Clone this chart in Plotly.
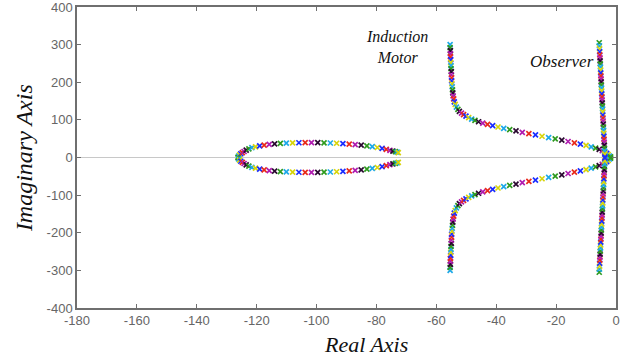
import plotly.graph_objects as go

# Observer branch (upper half; lower half is the complex conjugate)
obs_re = [-5.6, -5.55, -5.5, -5.45, -5.4, -5.35, -5.3, -5.25, -5.2, -5.15, -5.1, -5.05, -5.0, -4.95, -4.9,
          -4.85, -4.8, -4.75, -4.7, -4.65, -4.6, -4.55, -4.5, -4.45, -4.4, -4.35, -4.3, -4.25, -4.2, -4.15,
          -4.1, -4.05, -4.0, -3.95, -3.9, -3.85, -3.8, -3.75, -3.7]
obs_im = [305, 297, 289, 281, 273, 265, 257, 249, 241, 233, 225, 217, 209, 201, 193,
          185, 177, 169, 161, 153, 145, 137, 129, 121, 113, 105, 97, 89, 81, 73,
          65, 57, 49, 41, 33, 25, 17, 9, 1]

# Induction motor branch (upper half)
im_re = [-55.4, -55.4, -55.3, -55.3, -55.3, -55.2, -55.2, -55.1, -55.1, -55.0, -55.0, -54.9, -54.9, -54.8,
         -54.7, -54.6, -54.5, -54.4, -54.2, -54.0, -53.7, -53.3, -52.8, -52.3, -51.6, -50.9, -50.1, -49.2,
         -48.2, -47.1, -45.9, -44.5, -42.9, -41.2, -39.4, -37.5, -35.5, -33.4, -31.3, -29.1, -26.9, -24.7,
         -22.5, -20.3, -18.1, -16.0, -13.9, -11.9, -10.0, -8.3, -6.8, -5.6, -4.6, -3.8, -3.1, -2.6, -2.2, -1.8]
im_im = [300, 292, 284, 276, 268, 260, 252, 244, 236, 228, 220, 212, 204, 196,
         188, 180, 172, 164, 156, 148, 141, 134, 128, 122.5, 118, 114, 110, 106,
         102, 98.5, 95, 91.5, 88, 84.5, 81, 77.5, 74, 70.5, 67, 63.5, 60, 56.5,
         53, 49.5, 46, 42.5, 39, 35.5, 32, 28.5, 25, 21.5, 18, 14.5, 11, 7.5, 4, 1.5]

# Elliptic branch (upper half)
el_re = [-126.2, -126.0, -125.7, -125.3, -124.8, -124.2, -123.5, -122.6, -121.6, -120.4, -119.0, -117.5,
         -115.8, -114.0, -112.1, -110.1, -108.0, -105.9, -103.8, -101.7, -99.6, -97.5, -95.4, -93.3,
         -91.2, -89.1, -87.1, -85.1, -83.2, -81.4, -79.7, -78.1, -76.7, -75.5, -74.5, -73.7, -73.1, -72.7]
el_im = [1, 4, 7, 10, 13, 16, 19.5, 23, 26, 28.5, 31, 33,
         34.8, 36.2, 37.3, 38.2, 38.8, 39.2, 39.4, 39.5, 39.4, 39.1, 38.6, 37.9,
         37.0, 35.8, 34.4, 32.8, 31.0, 29.0, 26.6, 24.0, 21.5, 19.2, 17.2, 15.6, 14.3, 13.2]

x_ticks = [-180, -160, -140, -120, -100, -80, -60, -40, -20, 0]
x_labels = ["-180", "-160", "-140", "-120", "-100", "-80", "-60", "-40", "-20", "0"]
y_ticks = [-400, -300, -200, -100, 0, 100, 200, 300, 400]
y_labels = ["-400", "-300", "-200", "-100", "0", "100", "200", "300", "400"]

cycle = ["#2e9a1e", "#1ea8e8", "#d8d40a", "#1a2cff", "#e82a1a", "#b01cb0", "#2a0830"]

SERIF = "Liberation Serif"

fig = go.Figure()


def add_branch(re, im, reverse=False):
    n = len(re)
    cols = [cycle[(n - 1 - i) % len(cycle)] if reverse else cycle[i % len(cycle)] for i in range(n)]
    for sgn in (1, -1):
        fig.add_trace(go.Scatter(
            x=re, y=[sgn * v for v in im], mode="markers",
            marker=dict(symbol="x-thin", size=5, color=cols,
                        line=dict(color=cols, width=1.7)),
            showlegend=False, hoverinfo="x+y"))


add_branch(el_re, el_im)
add_branch(im_re, im_im, reverse=True)
add_branch(obs_re, obs_im)

axis_common = dict(
    showline=True, linecolor="#6f6f6f", linewidth=1.5, mirror="allticks",
    ticks="inside", ticklen=4, tickcolor="#6f6f6f", tickwidth=1,
    showgrid=False, ticklabeloverflow="allow", automargin=False,
    tickfont=dict(family="Liberation Sans", size=13, color="#666666"),
)

fig.update_xaxes(range=[-180, 0], tickvals=x_ticks, ticktext=x_labels, zeroline=False,
                 **axis_common)
fig.update_yaxes(range=[-400, 400], tickvals=y_ticks, ticktext=y_labels, zeroline=True,
                 zerolinecolor="#c8c8c8", zerolinewidth=1.2, **axis_common)

# axis titles
fig.add_annotation(x=0.536, y=-0.122, xref="paper", yref="paper", text="Real Axis",
                   showarrow=False, xanchor="center", yanchor="middle",
                   font=dict(family=SERIF, size=22, color="#111111", style="italic"))
fig.add_annotation(x=-0.097, y=0.497, xref="paper", yref="paper", text="Imaginary Axis",
                   showarrow=False, textangle=-90, xanchor="center", yanchor="middle",
                   font=dict(family=SERIF, size=24, color="#111111", style="italic"))

fig.add_annotation(x=-73, y=294, text="Induction<br>Motor", showarrow=False,
                   font=dict(family=SERIF, size=16, color="#111111", style="italic"))
fig.add_annotation(x=-6.8, y=254, text="Observer", showarrow=False, xanchor="right",
                   font=dict(family=SERIF, size=17, color="#111111", style="italic"))

fig.update_layout(width=638, height=364, margin=dict(l=77, r=22, t=7, b=56),
                  paper_bgcolor="white", plot_bgcolor="white")

fig.write_html("out.html")
